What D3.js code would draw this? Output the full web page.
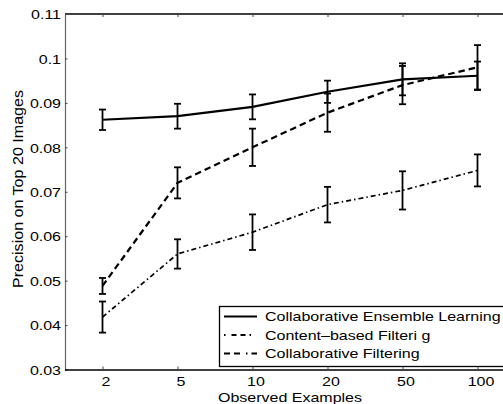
<!DOCTYPE html>
<html>
<head>
<meta charset="utf-8">
<script src="https://cdn.jsdelivr.net/npm/d3@7"></script>
<style>
  body { margin: 0; background: #fff; }
  svg { display: block; }
  text { font-family: "Liberation Sans", Arial, Helvetica, sans-serif; fill: #000; }
</style>
</head>
<body>
<svg id="chart" width="503" height="404"></svg>
<script>
// ---- data ----
const categories = ["2", "5", "10", "20", "50", "100"];
const yTicks = [0.03, 0.04, 0.05, 0.06, 0.07, 0.08, 0.09, 0.1, 0.11];
const yTickLabels = ["0.03", "0.04", "0.05", "0.06", "0.07", "0.08", "0.09", "0.1", "0.11"];

const ensembleMean = [0.0862, 0.0870, 0.0891, 0.0925, 0.0953, 0.0961];
const ensembleErr  = [0.0023, 0.0028, 0.0028, 0.0025, 0.0036, 0.0032];

const contentMean  = [0.0418, 0.0560, 0.0609, 0.0671, 0.0703, 0.0748];
const contentErr   = [0.0035, 0.0033, 0.0040, 0.0040, 0.0043, 0.0036];

const collabMean   = [0.0488, 0.0720, 0.0800, 0.0878, 0.0940, 0.0980];
const collabErr    = [0.0018, 0.0035, 0.0042, 0.0043, 0.0043, 0.0050];

const legendLabels = ["Collaborative Ensemble Learning", "Content\u2013based Filteri g", "Collaborative Filtering"];

// ---- layout ----
const svg = d3.select("#chart");
const mLeft = 65, mRight = 515, mTop = 14, mBottom = 369.5;
const stretch = 1.23;

const x = d3.scalePoint().domain(categories).range([mLeft, mRight]).padding(0.5);
const y = d3.scaleLinear().domain([0.03, 0.11]).range([mBottom, mTop]);

function widen(sel, k) {
  sel.each(function () {
    const w = this.getComputedTextLength();
    d3.select(this).attr("textLength", w * k).attr("lengthAdjust", "spacingAndGlyphs");
  });
}

// frame: top line
svg.append("line").attr("x1", mLeft).attr("x2", 503).attr("y1", mTop).attr("y2", mTop)
  .attr("stroke", "#000").attr("stroke-width", 1.4);

// y axis
const yAxis = svg.append("g").attr("transform", `translate(${mLeft},0)`)
  .call(d3.axisLeft(y).tickValues(yTicks).tickFormat((d, i) => yTickLabels[i]).tickSize(-2.5).tickSizeOuter(0).tickPadding(4));
yAxis.select(".domain").attr("stroke", "#666").attr("stroke-width", 1.2);
yAxis.selectAll(".tick line").attr("stroke", "#444");
yAxis.selectAll("text").attr("font-size", 13).attr("font-family", "Liberation Sans, Arial, sans-serif").attr("dy", "0.36em").call(widen, stretch);

// x axis bottom
const xAxis = svg.append("g").attr("transform", `translate(0,${mBottom})`)
  .call(d3.axisBottom(x).tickSize(-3).tickSizeOuter(0).tickPadding(16));
xAxis.select(".domain").attr("d", `M${mLeft},0.5H503`).attr("stroke", "#000").attr("stroke-width", 1.6);
xAxis.selectAll(".tick line").attr("stroke", "#444");
xAxis.selectAll("text").attr("font-size", 13).attr("font-family", "Liberation Sans, Arial, sans-serif")
  .attr("dx", 3).attr("dy", "0").call(widen, stretch);

// x ticks on top
const xTop = svg.append("g").attr("transform", `translate(0,${mTop})`)
  .call(d3.axisTop(x).tickSize(-3).tickSizeOuter(0).tickFormat(""));
xTop.select(".domain").remove();
xTop.selectAll(".tick line").attr("stroke", "#444");

// axis labels
svg.append("text").attr("x", 290).attr("y", 402).attr("text-anchor", "middle")
  .attr("font-size", 13).text("Observed Examples").call(widen, stretch);
svg.append("text").attr("transform", "translate(23,189) rotate(-90)").attr("text-anchor", "middle")
  .attr("font-size", 14.5).attr("textLength", 198).attr("lengthAdjust", "spacingAndGlyphs")
  .text("Precision on Top 20 Images");

// series
const series = [
  { mean: ensembleMean, err: ensembleErr, dash: null, width: 2.2 },
  { mean: contentMean, err: contentErr, dash: "5,3,1.5,3", width: 1.7 },
  { mean: collabMean, err: collabErr, dash: "6.5,4", width: 2.2 }
];

const line = d3.line().x((d, i) => x(categories[i])).y(d => y(d));

series.forEach(s => {
  svg.append("path").datum(s.mean).attr("d", line)
    .attr("fill", "none").attr("stroke", "#000").attr("stroke-width", s.width)
    .attr("stroke-dasharray", s.dash);
  const g = svg.append("g");
  s.mean.forEach((m, i) => {
    const cx = x(categories[i]);
    const y1 = y(m + s.err[i]), y2 = y(m - s.err[i]);
    g.append("line").attr("x1", cx).attr("x2", cx).attr("y1", y1).attr("y2", y2)
      .attr("stroke", "#000").attr("stroke-width", 1.8);
    [y1, y2].forEach(yy => g.append("line").attr("x1", cx - 3.5).attr("x2", cx + 3.5)
      .attr("y1", yy).attr("y2", yy).attr("stroke", "#000").attr("stroke-width", 1.8));
  });
});

// legend
const lg = svg.append("g");
lg.append("rect").attr("x", 219.5).attr("y", 306.5).attr("width", 300).attr("height", 60)
  .attr("fill", "#fff").attr("stroke", "#000").attr("stroke-width", 1.3);
const rowY = [316.5, 335, 353.5];
const legendDash = [null, "1.5,6,5,4,5,4", "6,4,6,6,1.5,4"];
const legendWidth = [2.2, 1.8, 2.2];
legendLabels.forEach((lab, i) => {
  lg.append("line").attr("x1", 224).attr("x2", 257).attr("y1", rowY[i]).attr("y2", rowY[i])
    .attr("stroke", "#000").attr("stroke-width", legendWidth[i]).attr("stroke-dasharray", legendDash[i]);
  lg.append("text").attr("x", 265).attr("y", rowY[i] + 4.8).attr("font-size", 13).text(lab).call(widen, stretch);
});
</script>
</body>
</html>
